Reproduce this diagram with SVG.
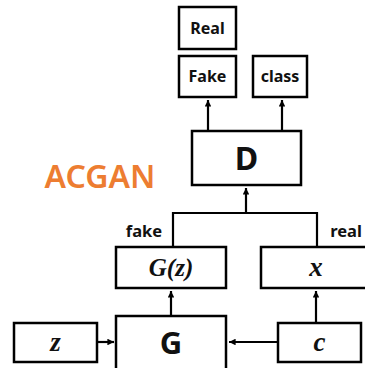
<svg xmlns="http://www.w3.org/2000/svg" width="365" height="368" viewBox="0 0 365 368">
<defs>
<style>
.box{fill:#fff;stroke:#000;stroke-width:2.5}
.lbl{font-family:"Noto Sans","Open Sans",sans-serif;font-weight:bold;fill:#111;text-anchor:middle}
.math{font-family:"Liberation Serif","DejaVu Serif",serif;font-weight:bold;font-style:italic;fill:#111;text-anchor:middle}
.edge{fill:none;stroke:#000;stroke-width:2.2}
</style>
<marker id="ah" viewBox="0 0 10 10" refX="10" refY="5" markerWidth="3" markerHeight="3" orient="auto" markerUnits="strokeWidth">
<path d="M0,0 L10,5 L0,10 Z" fill="#000"/>
</marker>
</defs>
<rect width="365" height="368" fill="#fff"/>
<text x="100" y="188" font-family="'Noto Sans','Open Sans',sans-serif" font-size="32" font-weight="600" fill="#ED7D31" text-anchor="middle">ACGAN</text>
<g id="connectors">
<path class="edge" d="M208,131 V100" marker-end="url(#ah)"/>
<path class="edge" d="M282,131 V100" marker-end="url(#ah)"/>
<path class="edge" d="M173,247 V213 H317 V247"/>
<path class="edge" d="M246,213 V188" marker-end="url(#ah)"/>
<path class="edge" d="M171,316 V291" marker-end="url(#ah)"/>
<path class="edge" d="M316,323 V291" marker-end="url(#ah)"/>
<path class="edge" d="M97,342 H114" marker-end="url(#ah)"/>
<path class="edge" d="M278,342 H229" marker-end="url(#ah)"/>
</g>
<g id="real"><rect class="box" x="179" y="7" width="57" height="42"/><text class="lbl" x="207.5" y="34" font-size="16">Real</text></g>
<g id="fake"><rect class="box" x="179" y="56" width="57" height="41"/><text class="lbl" x="207.5" y="82" font-size="16">Fake</text></g>
<g id="class"><rect class="box" x="253" y="56" width="54" height="41"/><text class="lbl" x="280" y="82" font-size="16">class</text></g>
<g id="D"><rect class="box" x="192" y="131" width="109" height="54"/><text class="lbl" x="246.5" y="170" font-size="32">D</text></g>
<text class="lbl" x="144" y="237" font-size="16.5">fake</text>
<text class="lbl" x="346" y="237" font-size="16.5">real</text>
<g id="Gz"><rect class="box" x="116" y="247" width="110" height="41"/><text class="math" x="171" y="276" font-size="25">G(z)</text></g>
<g id="x"><rect class="box" x="261" y="247" width="110" height="41"/><text class="math" x="316" y="276" font-size="27">x</text></g>
<g id="G"><rect class="box" x="116" y="316" width="110" height="60"/><text class="lbl" x="171" y="354" font-size="31">G</text></g>
<g id="z"><rect class="box" x="14" y="323" width="83" height="39"/><text class="math" x="55.5" y="351" font-size="27">z</text></g>
<g id="c"><rect class="box" x="278" y="323" width="83" height="39"/><text class="math" x="319.5" y="351" font-size="27">c</text></g>
</svg>
